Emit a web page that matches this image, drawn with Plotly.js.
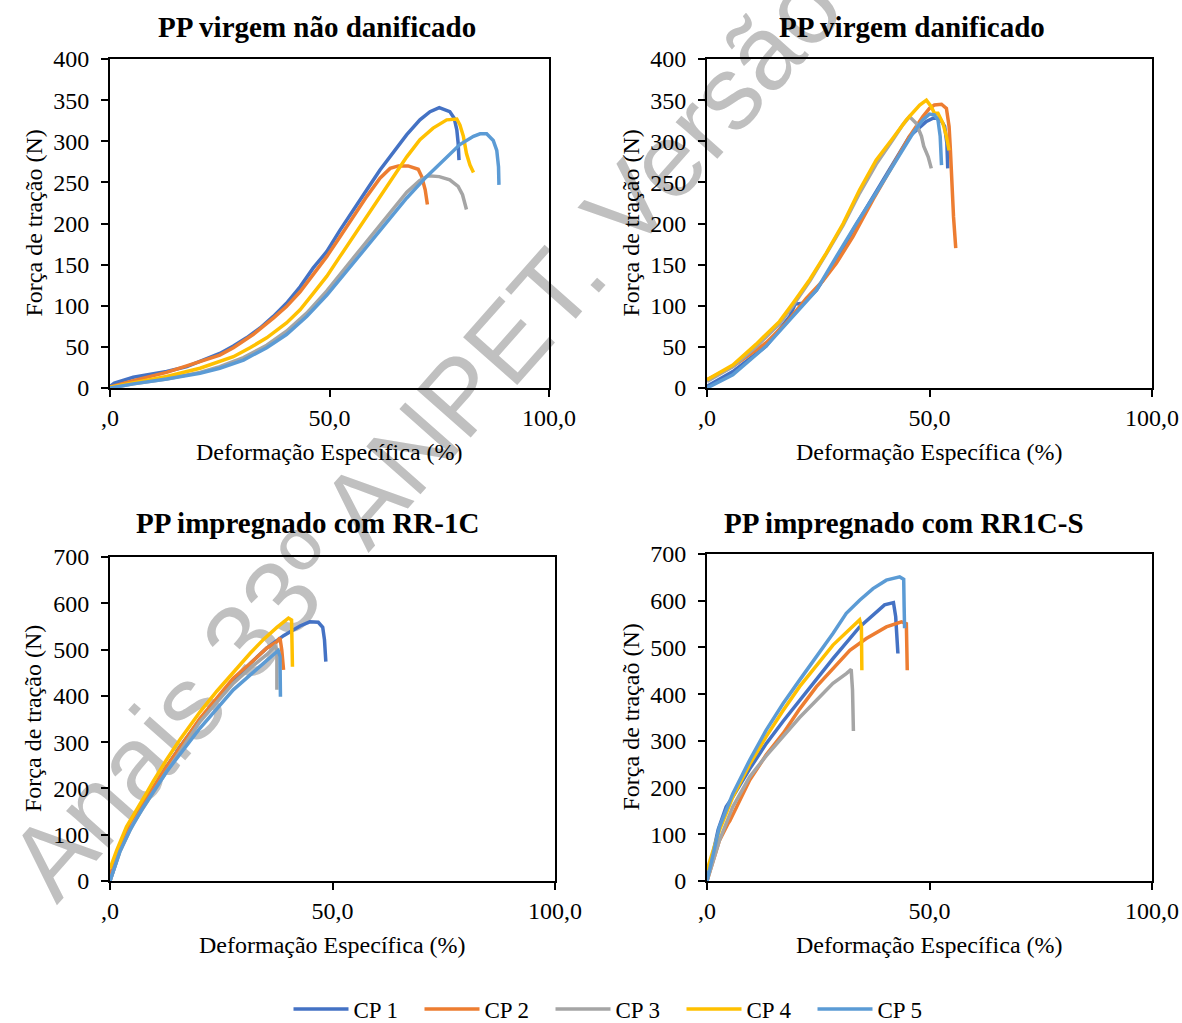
<!DOCTYPE html>
<html>
<head>
<meta charset="utf-8">
<script src="https://cdn.plot.ly/plotly-3.0.1.min.js"></script>
<style>
html,body{margin:0;padding:0;background:#fff;}
#wrap{position:relative;width:1182px;height:1023px;overflow:hidden;background:#fff;}
#wm{position:absolute;left:510px;top:338px;font-family:"Liberation Sans",Arial,sans-serif;font-size:105px;line-height:1;color:#c0c0c0;white-space:nowrap;transform:translate(-50%,-50%) rotate(-48.5deg);}
#chart{position:absolute;left:0;top:0;width:1182px;height:1023px;}
</style>
</head>
<body>
<div id="wrap">
<div id="wm">Anais 33º ANPET. Versão Final</div>
<div id="chart"></div>
</div>
<script>
// ---------- DATA ----------
const seriesNames = ['CP 1','CP 2','CP 3','CP 4','CP 5'];
const panelTitles = ['PP virgem não danificado','PP virgem danificado','PP impregnado com RR-1C','PP impregnado com RR1C-S'];
const xTitle = 'Deformação Específica (%)';
const yTitles = ['Força de tração (N)','Força de tração (N)','Força de tração (N)','Força de traçaõ (N)'];
const xTickVals = [0, 50, 100];
const xTickText = [',0', '50,0', '100,0'];

// PP virgem não danificado
const vnd_cp1_x = [0, 1, 5.3, 9.1, 12.9, 17.5, 20.5, 25, 28.1, 31.1, 34.2, 37.2, 40.2, 43.3, 46.3, 49.4, 52.4, 55.4, 58.5, 61.5, 64.5, 67.6, 70.6, 72.9, 75, 77.4, 78.4, 79, 79.3, 79.5];
const vnd_cp1_y = [2, 6, 13, 16, 20, 26, 32, 42, 51, 61, 73, 87, 103, 123, 146, 166, 192, 217, 241, 265, 287, 308, 326, 336, 341, 336, 328, 314, 298, 277];
const vnd_cp2_x = [0, 5.3, 12.9, 20.5, 25, 28.1, 32.6, 37.2, 40.2, 43.3, 46.3, 49.4, 52.4, 55.4, 58.5, 61.5, 63.8, 65.7, 67.9, 70.2, 71, 71.8, 72.3];
const vnd_cp2_y = [1, 9, 19, 32, 40, 49, 65, 85, 99, 117, 138, 160, 184, 208, 233, 255, 267, 270, 270, 266, 257, 241, 223];
const vnd_cp3_x = [0, 5.3, 12.9, 20.5, 25, 30.4, 35.7, 40.2, 44.8, 49.4, 53.9, 58.5, 63, 67.6, 70.5, 72.5, 75, 77.4, 79.3, 80.3, 81.2];
const vnd_cp3_y = [0, 5, 11, 19, 26, 37, 52, 69, 91, 118, 148, 178, 209, 238, 252, 258, 257, 253, 245, 235, 217];
const vnd_cp4_x = [0, 5.3, 12.9, 20.5, 25, 28.1, 31.9, 35.7, 40.2, 43.3, 46.3, 49.4, 52.4, 55.4, 58.5, 61.5, 64.5, 67.6, 70.6, 73.6, 76.7, 79, 79.7, 80.5, 81.2, 82, 82.8];
const vnd_cp4_y = [1, 6, 14, 24, 32, 38, 49, 61, 79, 95, 115, 136, 160, 184, 208, 233, 257, 281, 302, 316, 326, 327, 320, 306, 285, 271, 262];
const vnd_cp5_x = [0, 5.3, 12.9, 20.5, 25, 30.4, 35.7, 40.2, 44.8, 49.4, 53.9, 58.5, 63, 67.6, 72.1, 76.7, 79.7, 82.8, 84.3, 85.8, 87.3, 88.1, 88.5, 88.6];
const vnd_cp5_y = [0, 5, 11, 18, 24, 34, 49, 65, 87, 113, 142, 172, 202, 231, 257, 281, 296, 306, 309, 309, 301, 289, 269, 247];

// PP virgem danificado
const vd_cp1_x = [0, 5.8, 13.3, 18.6, 19.8, 21.6, 24.6, 29.1, 32.8, 37.3, 41.8, 45.5, 49.3, 50.8, 52.3, 53.4, 53.9, 54.1];
const vd_cp1_y = [2, 20, 51, 87, 102, 103, 119, 156, 192, 233, 273, 306, 324, 328, 328, 318, 298, 267];
const vd_cp2_x = [0, 5.8, 13.3, 17.8, 22.3, 26, 29.1, 32.8, 37.3, 41.8, 45.5, 48.5, 50, 51.1, 52.7, 53.8, 54.4, 54.7, 55, 55.4, 55.9];
const vd_cp2_y = [10, 26, 55, 79, 109, 130, 152, 184, 229, 271, 306, 330, 340, 344, 345, 340, 318, 289, 249, 208, 170];
const vd_cp3_x = [0, 5.8, 11, 16.3, 19.3, 23.1, 26.8, 30.6, 34.3, 38, 41.8, 44, 45.5, 47, 48.2, 48.7, 49.7, 50.4];
const vd_cp3_y = [8, 26, 50, 78, 100, 130, 163, 198, 237, 272, 302, 320, 330, 322, 306, 294, 281, 267];
const vd_cp4_x = [0, 5.8, 11, 16.3, 19.3, 23.1, 26.8, 30.6, 34.3, 38, 41.8, 44.8, 47.8, 49.3, 50.4, 51.1, 51.9, 53, 53.8, 54.4];
const vd_cp4_y = [10, 28, 53, 81, 103, 132, 164, 200, 241, 277, 304, 326, 344, 350, 342, 334, 334, 322, 306, 289];
const vd_cp5_x = [0, 5.8, 13.3, 18.6, 24.6, 29.1, 33.6, 38, 42.6, 46.3, 48.5, 50, 51.1, 51.9, 52.4, 52.7];
const vd_cp5_y = [0, 16, 51, 83, 119, 160, 200, 237, 277, 310, 326, 333, 332, 326, 306, 271];

// PP impregnado com RR-1C
const rr1c_cp1_x = [0, 2.2, 4.5, 7.5, 12.7, 16.5, 20.2, 24, 27.7, 31.5, 35.2, 39, 42.7, 44.9, 46.8, 47.8, 48.2, 48.5];
const rr1c_cp1_y = [0, 66, 117, 167, 247, 300, 348, 392, 432, 470, 503, 530, 551, 560, 559, 548, 521, 474];
const rr1c_cp2_x = [0, 2.2, 5.2, 6.4, 8.2, 12.7, 20.2, 27.7, 31.5, 35.2, 37.5, 38.2, 38.6, 39];
const rr1c_cp2_y = [12, 74, 135, 146, 178, 247, 351, 438, 470, 503, 517, 525, 499, 456];
const rr1c_cp3_x = [0, 2.2, 5.2, 9, 12.7, 20.2, 27.7, 31.5, 35.2, 37.1, 37.5, 37.5, 37.5];
const rr1c_cp3_y = [0, 63, 124, 182, 236, 344, 427, 460, 489, 507, 499, 456, 413];
const rr1c_cp4_x = [0, 1.5, 3.7, 6, 8.2, 9.7, 12.7, 15.7, 20.2, 24, 28.5, 31.5, 34.5, 37.5, 40.1, 40.8, 40.9, 41];
const rr1c_cp4_y = [27, 66, 117, 153, 190, 215, 262, 305, 365, 410, 460, 492, 522, 548, 568, 564, 514, 463];
const rr1c_cp5_x = [0, 2.2, 4.5, 7.5, 12.7, 20.2, 27.7, 31.5, 35.2, 36.7, 37.8, 38.2, 38.3, 38.3];
const rr1c_cp5_y = [0, 63, 110, 160, 236, 330, 413, 445, 474, 489, 498, 485, 442, 398];

// PP impregnado com RR1C-S
const rr1cs_cp1_x = [0, 2.5, 4.3, 5.8, 9.6, 13.3, 17.1, 20.8, 24.6, 28.3, 34.3, 37.3, 39.9, 41.9, 42.4, 42.9];
const rr1cs_cp1_y = [0, 110, 159, 180, 240, 294, 342, 387, 432, 476, 544, 569, 591, 596, 566, 487];
const rr1cs_cp2_x = [0, 2.8, 4.8, 5.1, 9.6, 13.3, 17.1, 20.8, 24.6, 28.3, 32.1, 35.8, 40.3, 43.7, 44.8, 44.9, 45];
const rr1cs_cp2_y = [0, 87, 124, 128, 216, 270, 316, 368, 416, 455, 494, 519, 544, 555, 551, 501, 451];
const rr1cs_cp3_x = [0, 2.8, 5.8, 9.6, 13.3, 17.1, 20.8, 24.6, 28.3, 31.3, 32.4, 32.7, 32.9];
const rr1cs_cp3_y = [0, 87, 159, 223, 268, 309, 350, 387, 423, 444, 453, 409, 321];
const rr1cs_cp4_x = [0, 2.8, 5.8, 9.6, 13.3, 17.1, 20.8, 24.6, 28.3, 32.3, 34.3, 34.7, 34.8];
const rr1cs_cp4_y = [23, 109, 180, 250, 309, 365, 416, 462, 505, 541, 559, 544, 451];
const rr1cs_cp5_x = [0, 1.35, 2.8, 5.8, 9.6, 13.3, 17.1, 20.8, 24.6, 28.3, 31.3, 34.3, 37.3, 40.3, 43.3, 44.2, 44.3, 44.4];
const rr1cs_cp5_y = [0, 59, 116, 187, 259, 323, 380, 430, 480, 530, 573, 601, 626, 644, 651, 646, 587, 541];

// ---------- STYLE / LAYOUT ----------
const colors = ['#4472C4', '#ED7D31', '#A5A5A5', '#FFC000', '#5B9BD5'];
const panels = [
  [[vnd_cp1_x, vnd_cp1_y], [vnd_cp2_x, vnd_cp2_y], [vnd_cp3_x, vnd_cp3_y], [vnd_cp4_x, vnd_cp4_y], [vnd_cp5_x, vnd_cp5_y]],
  [[vd_cp1_x, vd_cp1_y], [vd_cp2_x, vd_cp2_y], [vd_cp3_x, vd_cp3_y], [vd_cp4_x, vd_cp4_y], [vd_cp5_x, vd_cp5_y]],
  [[rr1c_cp1_x, rr1c_cp1_y], [rr1c_cp2_x, rr1c_cp2_y], [rr1c_cp3_x, rr1c_cp3_y], [rr1c_cp4_x, rr1c_cp4_y], [rr1c_cp5_x, rr1c_cp5_y]],
  [[rr1cs_cp1_x, rr1cs_cp1_y], [rr1cs_cp2_x, rr1cs_cp2_y], [rr1cs_cp3_x, rr1cs_cp3_y], [rr1cs_cp4_x, rr1cs_cp4_y], [rr1cs_cp5_x, rr1cs_cp5_y]]
];

const W = 1182, H = 1023;
const fx = v => v / W;
const fy = v => 1 - v / H;

// plot boxes in pixels: [left, right, top, bottom]
const boxes = [[110, 549, 59, 388], [707, 1152, 59, 388], [110, 555, 557, 881], [707, 1152, 554, 881]];
const yRanges = [[0, 400], [0, 400], [0, 700], [0, 700]];
const yDticks = [50, 50, 100, 100];
const titlePos = [[317, 27], [912, 27], [307, 523], [904, 523]];

const traces = [];
panels.forEach((series, p) => {
  series.forEach((s, i) => {
    traces.push({
      type: 'scatter', mode: 'lines',
      x: s[0], y: s[1],
      name: seriesNames[i],
      legendgroup: seriesNames[i],
      showlegend: p === 0,
      xaxis: p === 0 ? 'x' : 'x' + (p + 1),
      yaxis: p === 0 ? 'y' : 'y' + (p + 1),
      line: {color: colors[i], width: 3.5},
      hoverinfo: 'x+y+name'
    });
  });
});

const serif = 'Liberation Serif';
const baseAxis = {
  showline: true, linecolor: '#000', linewidth: 2, mirror: true,
  ticks: 'outside', ticklen: 7, tickwidth: 2, tickcolor: '#000',
  showgrid: false, zeroline: false, fixedrange: true,
  tickfont: {family: serif, size: 24, color: '#000'}
};

const layout = {
  width: W, height: H,
  margin: {l: 0, r: 0, t: 0, b: 0, autoexpand: false},
  paper_bgcolor: 'rgba(0,0,0,0)', plot_bgcolor: 'rgba(0,0,0,0)',
  showlegend: true,
  legend: {
    orientation: 'h', x: fx(616), xanchor: 'center', y: fy(1009), yanchor: 'middle',
    font: {family: serif, size: 23, color: '#000'}, itemwidth: 55, entrywidth: 61,
    bgcolor: 'rgba(0,0,0,0)', traceorder: 'normal'
  },
  annotations: [],
  font: {family: serif, color: '#000'}
};

boxes.forEach((b, p) => {
  const k = p === 0 ? '' : String(p + 1);
  layout['xaxis' + k] = Object.assign({}, baseAxis, {
    domain: [fx(b[0]), fx(b[1])], range: [0, 100], anchor: 'y' + k,
    tickmode: 'array', tickvals: xTickVals, ticktext: xTickText, ticklabelstandoff: 0
  });
  layout['yaxis' + k] = Object.assign({}, baseAxis, {
    domain: [fy(b[3]), fy(b[2])], range: yRanges[p], dtick: yDticks[p], tick0: 0, anchor: 'x' + k,
    ticklabelstandoff: 7
  });
  layout.annotations.push({
    text: '<b>' + panelTitles[p] + '</b>', xref: 'paper', yref: 'paper',
    x: fx(titlePos[p][0]), y: fy(titlePos[p][1]), xanchor: 'center', yanchor: 'middle',
    showarrow: false, font: {family: serif, size: 29, color: '#000'}
  });
  layout.annotations.push({
    text: xTitle, xref: 'paper', yref: 'paper',
    x: fx((b[0] + b[1]) / 2), y: fy(b[3] + 64), xanchor: 'center', yanchor: 'middle',
    showarrow: false, font: {family: serif, size: 24, color: '#000'}
  });
  layout.annotations.push({
    text: yTitles[p], xref: 'paper', yref: 'paper', textangle: -90,
    x: fx(b[0] - 77), y: fy((b[2] + b[3]) / 2), xanchor: 'center', yanchor: 'middle',
    showarrow: false, font: {family: serif, size: 24, color: '#000'}
  });
});

Plotly.newPlot('chart', traces, layout, {displayModeBar: false, staticPlot: true});
</script>
</body>
</html>
